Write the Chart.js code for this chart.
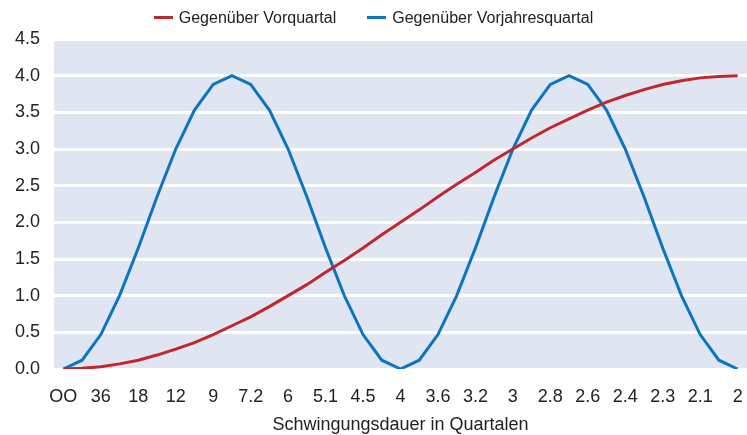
<!DOCTYPE html>
<html>
<head>
<meta charset="utf-8">
<script src="https://cdn.jsdelivr.net/npm/chart.js@4/dist/chart.umd.min.js"></script>
<style>
  html, body { margin: 0; padding: 0; background: #fff; }
  #wrap { position: relative; width: 747px; height: 435px; }
  #legend {
    position: absolute; top: 0; left: 0; width: 747px; height: 35px;
    display: flex; justify-content: center; align-items: center;
    font-family: "Liberation Sans", Arial, sans-serif; font-size: 16px; color: #222;
  }
  #legend .item { display: flex; align-items: center; white-space: nowrap; }
  #legend .item + .item { margin-left: 31px; }
  #legend .box { display: inline-block; width: 19px; height: 3px; margin-right: 6px; }
</style>
</head>
<body>
<div id="wrap">
  <div id="legend"></div>
  <canvas id="chartFilter" width="747" height="435"></canvas>
</div>
<script>
// Schwingungsdauer labels, every other point gets a label
const periodLabels = ["OO", "", "36", "", "18", "", "12", "", "9", "", "7.2", "", "6", "", "5.1", "", "4.5", "", "4",
    "", "3.6", "", "3.2", "", "3", "", "2.8", "", "2.6", "", "2.4", "", "2.3", "", "2.1", "", "2"];

const vorquartal = [0, 0.01, 0.03, 0.07, 0.12, 0.19, 0.27, 0.36, 0.47, 0.59, 0.71, 0.85, 1.0, 1.15, 1.32, 1.48, 1.65,
    1.83, 2.0, 2.17, 2.35, 2.52, 2.68, 2.85, 3.0, 3.15, 3.29, 3.41, 3.53, 3.64, 3.73, 3.81, 3.88, 3.93, 3.97, 3.99, 4.0];

const vorjahresquartal = [0, 0.12, 0.47, 1.0, 1.65, 2.35, 3.0, 3.53, 3.88, 4.0, 3.88, 3.53, 3.0, 2.35, 1.65, 1.0, 0.47,
    0.12, 0, 0.12, 0.47, 1.0, 1.65, 2.35, 3.0, 3.53, 3.88, 4.0, 3.88, 3.53, 3.0, 2.35, 1.65, 1.0, 0.47, 0.12, 0];

const redColor = "#c1272d";
const blueColor = "#0c74c0";
const fontFamily = "'Liberation Sans', Arial, sans-serif";

// hellblauer Hintergrund der Zeichenfläche
const plotBackground = {
    id: "plotBackground",
    beforeDraw(chart) {
        const { ctx, chartArea } = chart;
        ctx.save();
        ctx.fillStyle = "#dfe6f2";
        ctx.fillRect(chartArea.left, chartArea.top, chartArea.right - chartArea.left, chartArea.bottom - chartArea.top);
        ctx.restore();
    }
};

const chartFilter = document.getElementById("chartFilter");

const chart = new Chart(chartFilter, {
    type: "line",
    data: {
        labels: periodLabels,
        datasets: [
            {
                label: "Gegenüber Vorquartal",
                data: vorquartal,
                borderColor: redColor,
                backgroundColor: redColor,
                borderWidth: 3,
                pointRadius: 0,
                tension: 0
            },
            {
                label: "Gegenüber Vorjahresquartal",
                data: vorjahresquartal,
                borderColor: blueColor,
                backgroundColor: blueColor,
                borderWidth: 3,
                pointRadius: 0,
                tension: 0
            }
        ]
    },
    options: {
        responsive: false,
        animation: false,
        layout: { padding: { left: 0, right: 0, top: 39, bottom: 0 } },
        plugins: {
            legend: { display: false },
            tooltip: { enabled: false }
        },
        scales: {
            x: {
                type: "category",
                offset: true,
                grid: { display: false, drawTicks: false },
                border: { display: false },
                ticks: {
                    autoSkip: false,
                    maxRotation: 0,
                    padding: 17,
                    color: "#222",
                    font: { family: fontFamily, size: 18 }
                },
                title: {
                    display: true,
                    text: "Schwingungsdauer in Quartalen",
                    color: "#222",
                    padding: { top: 0, bottom: 0 },
                    font: { family: fontFamily, size: 18, lineHeight: 1.1 }
                },
                afterFit: (scale) => {
                    scale.height = 66;
                    scale.paddingLeft = 0;
                    scale.paddingRight = 0;
                }
            },
            y: {
                min: 0,
                max: 4.5,
                grid: { color: "#ffffff", lineWidth: 3, drawTicks: false },
                border: { display: false },
                ticks: {
                    stepSize: 0.5,
                    padding: 14,
                    color: "#222",
                    font: { family: fontFamily, size: 18 },
                    callback: (value) => value.toFixed(1)
                },
                afterFit: (scale) => {
                    scale.width = 54;
                }
            }
        }
    },
    plugins: [plotBackground]
});

// html legende aus den datasets
const legendBox = document.getElementById("legend");
chart.data.datasets.forEach(ds => {
    const item = document.createElement("span");
    item.className = "item";
    const box = document.createElement("span");
    box.className = "box";
    box.style.background = ds.borderColor;
    item.appendChild(box);
    item.appendChild(document.createTextNode(ds.label));
    legendBox.appendChild(item);
});
</script>
</body>
</html>
